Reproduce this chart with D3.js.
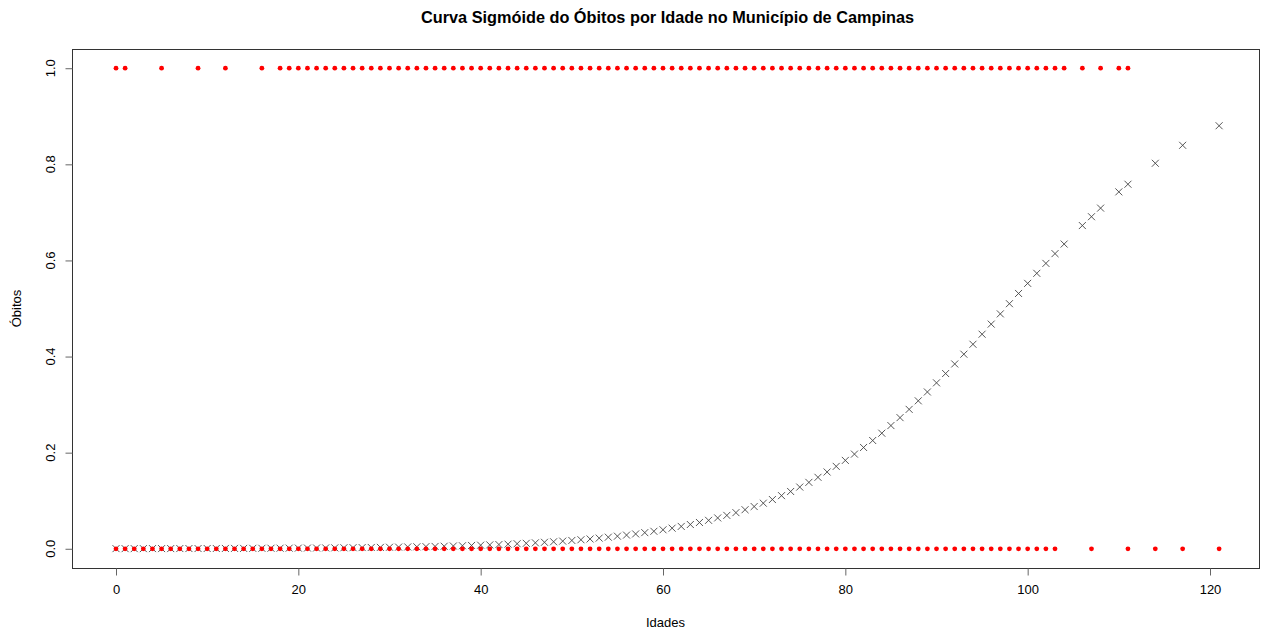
<!DOCTYPE html>
<html lang="pt">
<head>
  <meta charset="utf-8">
  <title>Curva Sigmóide</title>
  <script src="https://cdn.jsdelivr.net/npm/d3@7"></script>
  <style>
    body { margin: 0; background: #fff; }
    text { font-family: "Liberation Sans", Arial, sans-serif; fill: #000; }
  </style>
</head>
<body>
<script>
  // idades com óbito (valor 1)
  const idadesObito = [0, 1, 5, 9, 12, 16].concat(d3.range(18, 105), [106, 108, 110, 111]);
  // idades sem óbito (valor 0)
  const idadesVivo = d3.range(0, 104).concat([107, 111, 114, 117, 121]);

  // valores ajustados, uma entrada por idade
  const idadesAjuste = d3.range(0, 105).concat([106, 107, 108, 110, 111, 114, 117, 121]);
  const ajuste = [
    0.0003, 0.0003, 0.0003, 0.0003, 0.0004, 0.0004, 0.0004, 0.0005, 0.0005, 0.0005,
    0.0006, 0.0006, 0.0007, 0.0008, 0.0008, 0.0009, 0.0010, 0.0011, 0.0012, 0.0013,
    0.0014, 0.0015, 0.0016, 0.0018, 0.0019, 0.0021, 0.0023, 0.0025, 0.0027, 0.0029,
    0.0032, 0.0035, 0.0038, 0.0041, 0.0045, 0.0049, 0.0053, 0.0058, 0.0063, 0.0069,
    0.0075, 0.0081, 0.0088, 0.0096, 0.0105, 0.0114, 0.0124, 0.0135, 0.0146, 0.0159,
    0.0173, 0.0188, 0.0204, 0.0222, 0.0241, 0.0262, 0.0285, 0.0309, 0.0336, 0.0364,
    0.0395, 0.0429, 0.0465, 0.0505, 0.0547, 0.0592, 0.0642, 0.0695, 0.0752, 0.0813,
    0.0879, 0.0949, 0.1025, 0.1106, 0.1192, 0.1284, 0.1382, 0.1487, 0.1598, 0.1715,
    0.1839, 0.1970, 0.2108, 0.2253, 0.2405, 0.2564, 0.2729, 0.2901, 0.3079, 0.3263,
    0.3453, 0.3647, 0.3846, 0.4049, 0.4256, 0.4465, 0.4675, 0.4888, 0.5100, 0.5313,
    0.5523, 0.5732, 0.5939, 0.6142, 0.6341,
    0.6726, 0.6910, 0.7089, 0.7427, 0.7586, 0.8022, 0.8396, 0.8803
  ];

  const xTicks = [0, 20, 40, 60, 80, 100, 120];
  const yTicks = [0, 0.2, 0.4, 0.6, 0.8, 1.0];

  const W = 1261, H = 632;
  const box = { left: 72, right: 1259, top: 49, bottom: 568 };

  // a caixa do original fica cortada à direita
  const x = d3.scaleLinear().domain([0, 120]).range([116, 1210]);
  const y = d3.scaleLinear().domain([-0.04, 1.04]).range([box.bottom, box.top]);

  const svg = d3.select("body").append("svg")
    .attr("width", W).attr("height", H);

  // caixa
  svg.append("rect")
    .attr("x", box.left + 0.5).attr("y", box.top + 0.5)
    .attr("width", box.right - box.left).attr("height", box.bottom - box.top)
    .attr("fill", "none").attr("stroke", "#333").attr("stroke-width", 1);

  // eixo x
  const gx = svg.append("g").attr("transform", `translate(0,${box.bottom + 0.5})`)
    .call(d3.axisBottom(x).tickValues(xTicks).tickSize(7).tickPadding(9).tickFormat(d3.format("d")));
  gx.select(".domain").remove();
  gx.selectAll("line").attr("stroke", "#666");
  gx.selectAll("text").attr("font-size", 13).style("font-family", "Liberation Sans, Arial, sans-serif");

  // eixo y
  const gy = svg.append("g").attr("transform", `translate(${box.left + 0.5},0)`)
    .call(d3.axisLeft(y).tickValues(yTicks).tickSize(7).tickFormat(d3.format(".1f")));
  gy.select(".domain").remove();
  gy.selectAll("line").attr("stroke", "#666");
  gy.selectAll("text")
    .attr("font-size", 13)
    .style("font-family", "Liberation Sans, Arial, sans-serif")
    .attr("text-anchor", "middle")
    .attr("x", 0).attr("dy", 0)
    .attr("transform", d => `translate(-18,${y(d)}) rotate(-90)`)
    .attr("y", 0);
  gy.selectAll(".tick").attr("transform", null);
  gy.selectAll(".tick line").attr("y1", d => y(d) + 0.5).attr("y2", d => y(d) + 0.5);

  // pontos ajustados (x)
  const s = 3.5;
  const cruz = svg.append("g").attr("stroke", "#444").attr("stroke-width", 0.9);
  idadesAjuste.forEach((a, i) => {
    const cx = x(a), cy = y(ajuste[i]);
    cruz.append("path")
      .attr("d", `M${cx - s},${cy - s}L${cx + s},${cy + s}M${cx - s},${cy + s}L${cx + s},${cy - s}`)
      .attr("fill", "none");
  });

  // pontos observados
  const obs = idadesObito.map(a => [a, 1]).concat(idadesVivo.map(a => [a, 0]));
  svg.append("g").selectAll("circle").data(obs).enter().append("circle")
    .attr("cx", d => x(d[0]))
    .attr("cy", d => y(d[1]))
    .attr("r", 2.4)
    .attr("fill", "#ff0000");

  // títulos
  svg.append("text")
    .attr("x", (box.left + box.right) / 2 + 2).attr("y", 23)
    .attr("text-anchor", "middle").attr("font-size", 16.3).attr("font-weight", "bold")
    .text("Curva Sigmóide do Óbitos por Idade no Município de Campinas");

  svg.append("text")
    .attr("x", (box.left + box.right) / 2).attr("y", 627)
    .attr("text-anchor", "middle").attr("font-size", 13)
    .text("Idades");

  svg.append("text")
    .attr("transform", `translate(21,${(box.top + box.bottom) / 2}) rotate(-90)`)
    .attr("text-anchor", "middle").attr("font-size", 13)
    .text("Óbitos");
</script>
</body>
</html>
